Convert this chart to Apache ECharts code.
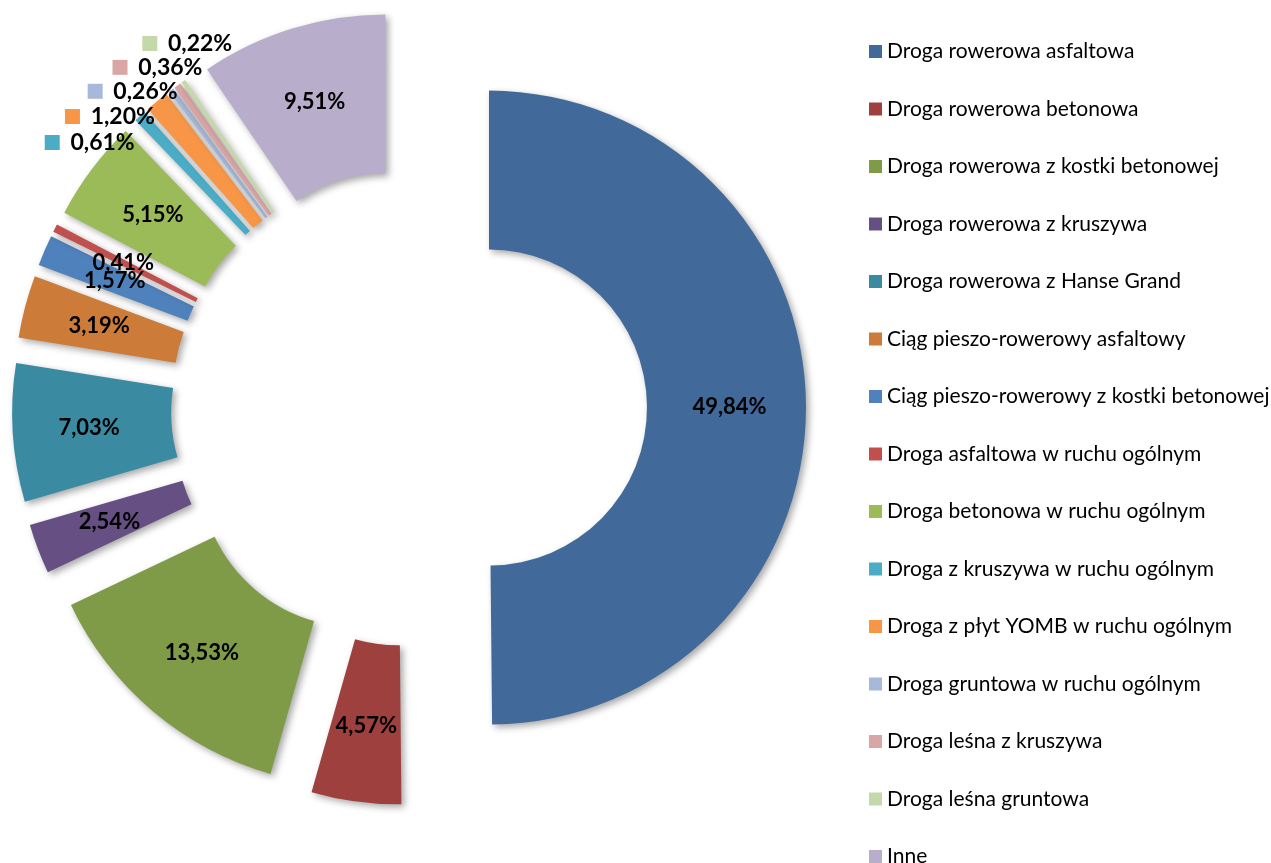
<!DOCTYPE html>
<html>
<head>
<meta charset="utf-8">
<script src="https://cdn.jsdelivr.net/npm/echarts@6/dist/echarts.min.js"></script>
<style>
html,body{margin:0;padding:0;background:#ffffff;}
#chart{width:1271px;height:863px;}
</style>
</head>
<body>
<div id="chart"></div>
<script>
const categories = [
  'Droga rowerowa asfaltowa',
  'Droga rowerowa betonowa',
  'Droga rowerowa z kostki betonowej',
  'Droga rowerowa z kruszywa',
  'Droga rowerowa z Hanse Grand',
  'Ciąg pieszo-rowerowy asfaltowy',
  'Ciąg pieszo-rowerowy z kostki betonowej',
  'Droga asfaltowa w ruchu ogólnym',
  'Droga betonowa w ruchu ogólnym',
  'Droga z kruszywa w ruchu ogólnym',
  'Droga z płyt YOMB w ruchu ogólnym',
  'Droga gruntowa w ruchu ogólnym',
  'Droga leśna z kruszywa',
  'Droga leśna gruntowa',
  'Inne'
];
const values = [49.84, 4.57, 13.53, 2.54, 7.03, 3.19, 1.57, 0.41, 5.15, 0.61, 1.20, 0.26, 0.36, 0.22, 9.51];
const palette = [
  '#416A9B', '#9E413E', '#7F9B48', '#664F83', '#3A8BA1', '#CC7B38',
  '#4F81BD', '#C0504D', '#9BBB59', '#4BACC6', '#F79646',
  '#A7B8DA', '#D9A6A5', '#C5D8AA', '#B8AECB'
];
const outsideLabel = [false, false, false, false, false, false, false, false, false, true, true, true, true, true, false];

const FONT = 'Lato';
function fmt(v) { return v.toFixed(2).replace('.', ',') + '%'; }

const data = categories.map((name, i) => {
  const item = {
    name: name,
    value: values[i],
    selected: true,
    itemStyle: { color: palette[i] }
  };
  if (outsideLabel[i]) {
    item.label = {
      position: 'outside',
      lineHeight: 19,
      minMargin: 0,
      formatter: '{sq|}  {v|' + fmt(values[i]) + '}',
      rich: {
        sq: { width: 15, height: 15, lineHeight: 19, backgroundColor: palette[i] },
        v: { fontSize: 23, fontWeight: 'bold', color: '#000', fontFamily: FONT, lineHeight: 19 }
      }
    };
    item.labelLine = { show: false, length: 46, length2: -80 };
  }
  return item;
});

const chart = echarts.init(document.getElementById('chart'), null, { renderer: 'canvas' });
chart.setOption({
  animation: false,
  backgroundColor: '#ffffff',
  legend: {
    orient: 'vertical',
    left: 864,
    top: 36,
    height: 1000,
    itemWidth: 13,
    itemHeight: 13,
    itemGap: 36.5,
    icon: 'rect',
    selectedMode: false,
    textStyle: { fontFamily: FONT, fontSize: 21, color: '#000', lineHeight: 20 },
    data: categories
  },
  series: [{
    type: 'pie',
    center: [409, 408],
    radius: [158, 317],
    startAngle: 90,
    clockwise: true,
    selectedMode: 'multiple',
    selectedOffset: 80,
    avoidLabelOverlap: true,
    minShowLabelAngle: 0,
    labelLayout: { hideOverlap: false },
    emphasis: { disabled: true },
    itemStyle: {
      shadowColor: 'rgba(0,0,0,0.35)',
      shadowBlur: 7,
      shadowOffsetX: 3,
      shadowOffsetY: 3
    },
    label: {
      show: true,
      position: 'inside',
      color: '#000',
      fontFamily: FONT,
      fontWeight: 'bold',
      fontSize: 22,
      formatter: p => fmt(p.value)
    },
    labelLine: { show: false },
    data: data
  }]
});
</script>
</body>
</html>
